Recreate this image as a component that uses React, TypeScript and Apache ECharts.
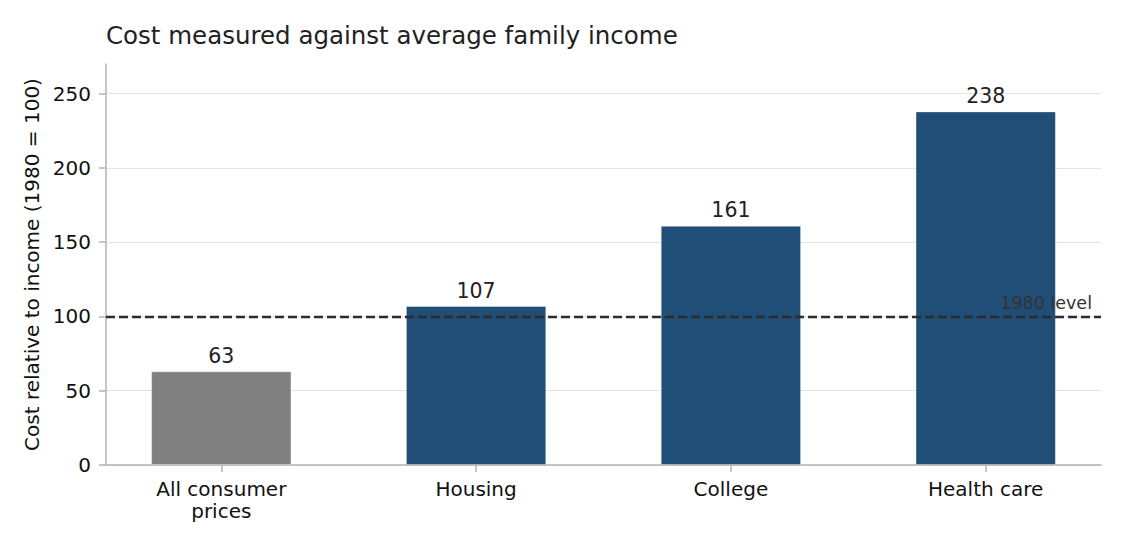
import React, { useEffect, useRef } from "react";
import * as echarts from "echarts";

const categories = ["All consumer\nprices", "Housing", "College", "Health care"];
const values = [63, 107, 161, 238];
const barColors = ["#808080", "#204e77", "#204e77", "#204e77"];
const referenceValue = 100;
const referenceLabel = "1980 level";
const titleText = "Cost measured against average family income";
const yAxisName = "Cost relative to income (1980 = 100)";
const yMin = 0;
const yMax = 270;
const yStep = 50;

const FONT = "DejaVu Sans, sans-serif";

export default function App() {
  const ref = useRef<HTMLDivElement>(null);
  useEffect(() => {
    if (!ref.current) return;
    const chart = echarts.init(ref.current, undefined, { renderer: "svg" });
    const top = 64;
    const bottom = 81;
    chart.setOption({
      animation: false,
      backgroundColor: "#ffffff",
      textStyle: { fontFamily: FONT },
      title: {
        text: titleText,
        left: 101,
        top: 18,
        textStyle: { fontFamily: FONT, fontSize: 24.5, fontWeight: "normal", color: "#222222" },
      },
      grid: [
        { left: 106, right: 24, top, bottom, containLabel: false },
        { left: 93.9, right: 11.9, top, bottom, containLabel: false },
      ],
      xAxis: [
        {
          gridIndex: 0,
          type: "value",
          min: 0,
          max: 1,
          axisLine: { show: true, onZero: false, lineStyle: { color: "#b3b3b3", width: 1.5 } },
          axisTick: { show: false },
          axisLabel: { show: false },
          splitLine: { show: false },
        },
        {
          gridIndex: 1,
          type: "category",
          data: categories,
          axisLine: { show: false },
          axisTick: { show: true, alignWithLabel: true, length: 7, lineStyle: { color: "#b3b3b3", width: 1.5 } },
          axisLabel: { fontFamily: FONT, fontSize: 20, color: "#111111", margin: 13, lineHeight: 22 },
          splitLine: { show: false },
        },
      ],
      yAxis: [
        {
          gridIndex: 0,
          type: "value",
          min: yMin,
          max: yMax,
          interval: yStep,
          name: yAxisName,
          nameLocation: "middle",
          nameGap: 62,
          nameTextStyle: { fontFamily: FONT, fontSize: 20, color: "#111111" },
          axisLine: { show: true, lineStyle: { color: "#b3b3b3", width: 1.5 } },
          axisTick: { show: true, length: 7, lineStyle: { color: "#b3b3b3", width: 1.5 } },
          axisLabel: {
            fontFamily: FONT,
            fontSize: 20,
            color: "#111111",
            margin: 15,
            showMaxLabel: false,
          },
          splitLine: { show: true, showMaxLine: false, lineStyle: { color: "#e3e3e3", width: 1.2 } },
        },
        {
          gridIndex: 1,
          type: "value",
          min: yMin,
          max: yMax,
          show: false,
        },
      ],
      series: [
        {
          type: "bar",
          xAxisIndex: 1,
          yAxisIndex: 1,
          data: values.map((v, i) => ({ value: v, itemStyle: { color: barColors[i] } })),
          barWidth: "55%",
          itemStyle: { borderColor: "rgba(255,255,255,0.45)", borderWidth: 0.8 },
          label: {
            show: true,
            position: "top",
            distance: 5,
            fontFamily: FONT,
            fontSize: 20.5,
            color: "#222222",
          },
        },
        {
          type: "line",
          xAxisIndex: 0,
          yAxisIndex: 0,
          z: 10,
          silent: true,
          symbol: "none",
          data: [
            [0, referenceValue],
            [1, referenceValue],
          ],
          lineStyle: { opacity: 0 },
          markLine: {
            silent: true,
            symbol: ["none", "none"],
            z: 10,
            data: [{ yAxis: referenceValue }],
            lineStyle: { type: [9, 4], color: "#2b2b2b", width: 2.3 },
            label: {
              show: true,
              position: "insideEndTop",
              formatter: referenceLabel,
              fontFamily: FONT,
              fontSize: 17.5,
              color: "#333333",
              distance: [9, 4],
            },
          },
        },
      ],
    });
    return () => chart.dispose();
  }, []);
  return (
    <div
      ref={ref}
      style={{ position: "fixed", left: 0, top: 0, width: 1125, height: 546 }}
    />
  );
}
